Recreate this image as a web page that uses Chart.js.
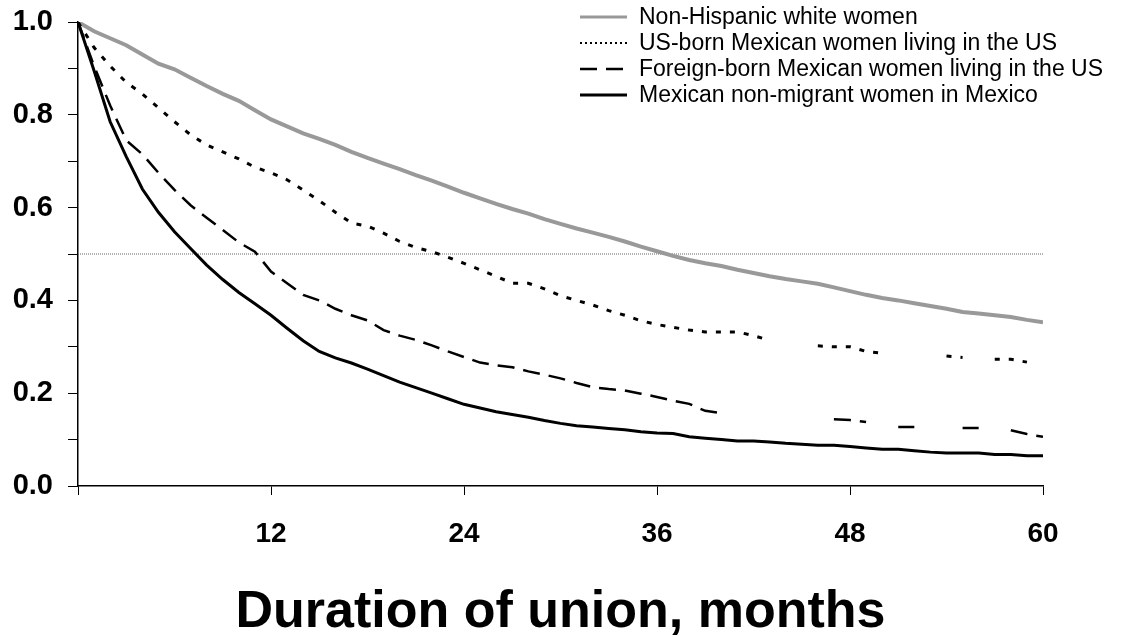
<!DOCTYPE html>
<html>
<head>
<meta charset="utf-8">
<script src="https://cdn.jsdelivr.net/npm/chart.js@4/dist/chart.umd.min.js"></script>
<style>
  html, body { margin: 0; padding: 0; background: #fff; }
  #wrap { width: 1122px; height: 637px; position: relative; }
</style>
</head>
<body>
<div id="wrap"><canvas id="c" width="1122" height="637"></canvas></div>
<script>
// Months of union duration (x)
const months = Array.from({length: 61}, (_, i) => i);

const seriesLabels = [
  "Non-Hispanic white women",
  "US-born Mexican women living in the US",
  "Foreign-born Mexican women living in the US",
  "Mexican non-migrant women in Mexico"
];

// Proportion still in union (null = no value shown)
const nhWhite = [1.0,0.98,0.965,0.95,0.93,0.91,0.898,0.88,0.862,0.845,0.83,0.81,0.79,0.775,0.76,0.748,0.735,0.72,0.707,0.695,0.683,0.67,0.658,0.645,0.632,0.62,0.608,0.597,0.587,0.575,0.565,0.555,0.546,0.537,0.527,0.516,0.506,0.496,0.487,0.48,0.474,0.466,0.459,0.452,0.446,0.441,0.436,0.428,0.42,0.412,0.405,0.4,0.394,0.388,0.382,0.375,0.372,0.368,0.364,0.358,0.353];

const usBorn = [1.0,0.945,0.905,0.87,0.845,0.815,0.785,0.757,0.735,0.72,0.705,0.687,0.675,0.66,0.638,0.615,0.59,0.567,0.56,0.545,0.527,0.514,0.505,0.493,0.48,0.466,0.452,0.437,0.437,0.425,0.41,0.4,0.39,0.378,0.368,0.356,0.348,0.342,0.336,0.332,0.332,0.332,0.324,0.314,null,null,0.302,0.3,0.3,0.29,0.286,null,null,null,0.28,0.277,null,0.273,0.273,0.267,null];

const foreignBorn = [1.0,0.905,0.82,0.745,0.715,0.675,0.638,0.605,0.578,0.552,0.525,0.505,0.462,0.437,0.412,0.4,0.382,0.368,0.357,0.336,0.324,0.315,0.303,0.29,0.278,0.266,0.26,0.256,0.247,0.24,0.232,0.222,0.213,0.209,0.206,0.199,0.192,0.184,0.177,0.162,0.157,null,null,null,null,null,null,0.144,0.142,0.138,null,0.127,0.127,null,null,0.125,0.125,null,0.12,0.112,0.106];

const mexNonMigrant = [1.0,0.895,0.785,0.71,0.64,0.59,0.548,0.512,0.476,0.445,0.417,0.393,0.368,0.34,0.313,0.29,0.276,0.265,0.252,0.238,0.224,0.212,0.2,0.188,0.176,0.168,0.16,0.154,0.148,0.141,0.135,0.13,0.127,0.124,0.121,0.117,0.114,0.113,0.106,0.103,0.1,0.097,0.097,0.095,0.092,0.09,0.088,0.088,0.085,0.082,0.079,0.079,0.076,0.073,0.071,0.071,0.071,0.068,0.068,0.065,0.065];

// Median reference line
const medianX = [0, 60];
const medianY = [0.5, 0.5];

const xTickStep = 12;
const yTickStep = 0.1;
const xTitle = "Duration of union, months";

const toPts = (xs, ys) => xs.map((x, i) => ({x: x, y: ys[i]}));

const FONT = "'Liberation Sans', Arial, Helvetica, sans-serif";

const styles = [
  {color: '#999999', width: 4, dash: []},
  {color: '#000000', width: 3, dash: [5, 9]},
  {color: '#000000', width: 2.5, dash: [17, 9]},
  {color: '#000000', width: 3, dash: []}
];
const legendDash = [[], [2, 3], [17, 9], []];
const legendWidth = [3, 2, 2.5, 3];

const allSeries = [nhWhite, usBorn, foreignBorn, mexNonMigrant];

const datasets = allSeries.map((s, i) => ({
  label: seriesLabels[i],
  data: toPts(months, s),
  borderColor: styles[i].color,
  borderWidth: styles[i].width,
  borderDash: styles[i].dash,
  pointRadius: 0,
  fill: false,
  tension: 0,
  spanGaps: false,
  order: 4 - i,
  borderCapStyle: 'butt'
}));

datasets.push({
  label: 'median',
  data: toPts(medianX, medianY),
  borderColor: '#666666',
  borderWidth: 1,
  borderDash: [1, 1],
  pointRadius: 0,
  fill: false,
  order: 10
});

const legendPlugin = {
  id: 'customLegend',
  afterDraw(chart) {
    const ctx = chart.ctx;
    ctx.save();
    const x0 = 580, x1 = 627, tx = 639;
    const rowY = [17, 43, 69, 95];
    ctx.font = "23px " + FONT;
    ctx.textBaseline = 'middle';
    ctx.textAlign = 'left';
    for (let i = 0; i < 4; i++) {
      const y = rowY[i];
      ctx.beginPath();
      ctx.strokeStyle = styles[i].color;
      ctx.lineWidth = legendWidth[i];
      ctx.setLineDash(legendDash[i]);
      ctx.moveTo(x0, y);
      ctx.lineTo(x1, y);
      ctx.stroke();
      ctx.setLineDash([]);
      ctx.fillStyle = '#000';
      ctx.fillText(seriesLabels[i], tx, y + 1);
    }
    ctx.restore();
  }
};

new Chart(document.getElementById('c'), {
  type: 'line',
  data: { datasets: datasets },
  options: {
    responsive: false,
    animation: false,
    devicePixelRatio: 1,
    layout: { padding: { left: 0, right: 79, top: 22, bottom: 0 } },
    plugins: { legend: { display: false }, tooltip: { enabled: false }, title: { display: false } },
    scales: {
      x: {
        type: 'linear',
        min: 0, max: 60,
        afterFit(scale) { scale.height = 151; scale.paddingLeft = 0; scale.paddingRight = 0; },
        ticks: {
          stepSize: xTickStep,
          autoSkip: false,
          maxRotation: 0,
          padding: 22,
          color: '#000',
          font: { family: FONT, size: 28, weight: 'bold' },
          callback: (v) => v === 0 ? '' : String(v)
        },
        grid: { drawOnChartArea: false, drawTicks: true, tickLength: 9, color: '#000', lineWidth: 1 },
        border: { display: true, color: '#000', width: 1.5 },
        title: {
          display: true,
          text: xTitle,
          color: '#000',
          font: { family: FONT, size: 52, weight: 'bold', lineHeight: 1 },
          padding: { top: 0, bottom: -2 }
        }
      },
      y: {
        type: 'linear',
        min: 0, max: 1,
        afterFit(scale) { scale.width = 78; scale.paddingTop = 0; scale.paddingBottom = 0; },
        ticks: {
          stepSize: yTickStep,
          autoSkip: false,
          padding: 15,
          color: '#000',
          font: { family: FONT, size: 29, weight: 'bold' },
          callback: (v) => (Math.round(v * 10) % 2 === 0) ? v.toFixed(1) : ''
        },
        grid: { drawOnChartArea: false, drawTicks: true, tickLength: 10, color: '#000', lineWidth: 1 },
        border: { display: true, color: '#000', width: 1.5 }
      }
    }
  },
  plugins: [legendPlugin]
});
</script>
</body>
</html>
